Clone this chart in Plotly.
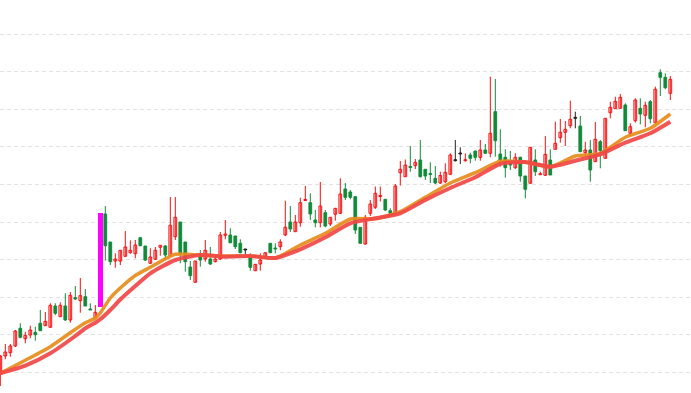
import plotly.graph_objects as go

# ---- data (price units) ----
opens = [12.80, 14.40, 14.73, 15.40, 17.17, 16.13, 16.50, 16.77, 17.67, 17.43,
         17.27, 19.40, 18.33, 19.40, 18.00, 20.23, 19.93, 20.33, 19.10, 18.23,
         19.33, 28.60, 25.80, 23.90, 23.90, 24.37, 24.73, 24.63, 26.23, 25.40,
         23.67, 24.07, 25.27, 25.40, 24.40, 26.33, 27.80, 25.80, 23.30, 21.77,
         24.50, 24.10, 24.10, 23.83, 24.10, 26.47, 26.50, 26.40, 25.67, 25.00,
         24.40, 22.93, 23.60, 24.33, 25.67, 25.17, 25.33, 26.50, 27.80, 26.83,
         27.73, 29.95, 29.73, 28.00, 27.73, 28.73, 27.60, 28.57, 28.67, 31.10,
         30.80, 30.33, 27.27, 25.60, 28.67, 29.27, 30.35, 30.07, 28.93, 28.75,
         32.73, 32.33, 33.35, 33.43, 34.00, 33.07, 32.65, 32.17, 31.70, 31.83,
         32.57, 33.93, 34.60, 33.93, 34.50, 34.90, 34.27, 35.00, 34.67, 38.83,
         34.60, 34.27, 33.67, 33.23, 34.27, 32.40, 31.67, 34.00, 32.53, 32.47,
         34.00, 35.07, 36.23, 36.77, 37.43, 38.17, 37.40, 34.73, 35.00, 33.83,
         35.83, 34.17, 38.73, 39.13, 39.17, 39.50, 36.67, 37.93, 39.17, 38.47,
         39.83, 37.73, 42.73, 42.27, 40.67]
highs = [14.50, 15.60, 15.60, 17.00, 17.67, 16.83, 17.43, 17.33, 19.00, 18.80,
         19.67, 19.67, 19.77, 20.67, 20.80, 21.40, 22.20, 21.10, 19.67, 19.50,
         28.73, 29.40, 25.80, 24.67, 24.97, 26.90, 25.97, 26.00, 26.23, 25.40,
         25.17, 25.30, 25.47, 25.50, 30.30, 30.30, 27.80, 25.80, 23.90, 23.90,
         25.00, 26.00, 25.30, 24.33, 26.80, 28.00, 27.17, 26.40, 26.07, 25.10,
         24.67, 23.60, 24.67, 24.73, 25.67, 25.67, 26.07, 29.93, 29.40, 28.50,
         30.23, 31.40, 30.67, 29.00, 31.80, 29.00, 28.27, 29.17, 32.17, 31.70,
         31.00, 30.33, 27.27, 28.50, 30.00, 31.35, 31.35, 30.07, 29.17, 31.60,
         33.90, 34.05, 35.40, 34.10, 36.00, 33.07, 33.77, 33.40, 32.83, 33.67,
         34.67, 36.00, 35.27, 34.67, 34.73, 34.90, 36.00, 35.60, 42.33, 42.10,
         37.07, 35.07, 34.90, 34.67, 34.33, 32.40, 35.27, 35.07, 32.83, 36.40,
         35.07, 37.83, 38.10, 37.90, 39.93, 38.83, 38.40, 35.83, 36.00, 37.80,
         36.00, 38.17, 39.83, 40.33, 40.60, 39.67, 37.67, 40.17, 40.17, 39.83,
         40.00, 41.33, 43.07, 42.67, 42.40]
lows = [11.40, 14.07, 14.33, 15.30, 16.17, 15.67, 16.17, 15.93, 16.93, 17.40,
        17.27, 18.50, 18.33, 17.93, 17.73, 20.00, 18.73, 19.40, 19.00, 18.17,
        19.33, 23.93, 23.50, 23.23, 23.50, 24.37, 24.63, 24.17, 25.37, 23.90,
        23.63, 24.00, 24.43, 24.00, 24.40, 26.00, 23.67, 22.83, 22.00, 21.77,
        23.33, 23.83, 23.50, 23.77, 24.00, 26.07, 25.67, 25.10, 24.67, 24.57,
        22.93, 22.93, 22.93, 24.30, 24.70, 24.67, 25.00, 26.40, 26.80, 26.83,
        27.33, 29.93, 28.00, 27.27, 27.27, 27.27, 27.40, 27.93, 28.60, 30.00,
        30.07, 26.60, 25.67, 25.53, 28.40, 29.10, 29.85, 28.90, 28.50, 28.75,
        31.45, 32.33, 32.83, 33.10, 32.25, 32.00, 31.70, 31.60, 31.60, 31.67,
        32.57, 33.85, 33.60, 33.83, 33.67, 33.93, 33.93, 34.67, 34.27, 34.33,
        33.33, 32.23, 33.00, 33.10, 31.83, 30.17, 31.67, 32.40, 32.50, 32.47,
        32.50, 35.07, 35.73, 35.40, 37.17, 37.17, 34.83, 34.33, 31.83, 33.83,
        33.17, 34.17, 38.17, 39.13, 39.17, 36.93, 36.40, 37.73, 37.57, 37.27,
        37.67, 37.73, 40.40, 41.07, 40.00]
closes = [14.40, 14.80, 15.40, 16.90, 16.27, 16.47, 17.00, 16.53, 16.93, 17.87,
          19.47, 18.67, 19.47, 18.00, 20.47, 20.10, 20.43, 19.40, 19.00, 18.77,
          28.73, 25.43, 23.83, 24.10, 24.97, 25.30, 24.97, 25.50, 25.43, 24.00,
          24.30, 24.97, 25.47, 24.50, 27.47, 28.27, 24.67, 23.83, 22.43, 23.90,
          24.00, 24.97, 23.60, 24.10, 26.50, 26.60, 25.73, 25.33, 24.73, 25.00,
          23.27, 23.57, 24.00, 24.73, 24.73, 25.10, 25.80, 27.27, 27.10, 27.80,
          29.73, 30.05, 28.60, 27.73, 29.40, 27.40, 28.27, 29.17, 30.60, 30.27,
          30.27, 27.00, 25.67, 28.27, 29.60, 30.67, 30.45, 29.00, 28.67, 31.40,
          33.07, 33.50, 33.25, 33.77, 32.33, 32.40, 32.55, 31.70, 32.45, 32.77,
          34.50, 33.93, 34.60, 34.00, 34.17, 34.27, 35.00, 34.67, 36.67, 35.93,
          34.00, 33.23, 33.50, 34.27, 32.40, 31.07, 35.27, 32.83, 32.60, 34.57,
          32.50, 35.67, 36.77, 37.07, 38.07, 38.17, 34.83, 35.00, 33.00, 36.07,
          34.93, 38.17, 39.27, 39.87, 40.27, 36.93, 37.33, 40.00, 38.60, 39.47,
          38.13, 41.07, 42.27, 41.23, 42.07]
highlight_index = 20

ma_index = [0, 5, 10, 15, 17, 19, 20, 22, 24, 27, 30, 35, 40, 45, 50, 55, 60, 65,
            70, 75, 80, 85, 90, 95, 100, 105, 110, 115, 120, 125, 130, 134]
ma_short = [12.67, 13.97, 15.33, 17.07, 17.73, 18.17, 18.70, 20.20, 21.20, 22.45,
            23.27, 24.57, 24.50, 24.40, 24.40, 24.20, 25.50, 26.67, 28.10, 28.13,
            28.83, 30.27, 31.70, 32.73, 33.87, 33.77, 33.33, 34.40, 34.67, 36.27,
            37.17, 38.60]
ma_long = [12.67, 13.43, 14.67, 16.40, 17.17, 17.73, 18.07, 19.00, 20.05, 21.40,
           22.67, 24.00, 24.50, 24.33, 24.40, 24.20, 25.07, 26.27, 27.67, 28.17,
           28.67, 30.00, 31.20, 32.27, 33.60, 33.80, 33.33, 33.93, 34.57, 35.73,
           36.67, 37.83]

# ---- styles ----
UP = "#f40f0f"
DOWN = "#138a3a"
FLAT = "#222222"
HILITE = "#ff00ff"
ORANGE = "#e68c1a"
REDLINE = "#f04646"

n = len(opens)
groups = {"up": [], "down": [], "flat": []}
for i in range(n):
    if i == highlight_index:
        continue
    if closes[i] > opens[i]:
        groups["up"].append(i)
    elif closes[i] < opens[i]:
        groups["down"].append(i)
    else:
        groups["flat"].append(i)

colors = {"up": UP, "down": DOWN, "flat": FLAT}
fills = {"up": "white", "down": DOWN, "flat": FLAT}

fig = go.Figure()

# wicks
for key, ids in groups.items():
    wx, wy = [], []
    for i in ids:
        wx += [i, i, None]
        wy += [lows[i], highs[i], None]
    fig.add_trace(go.Scatter(x=wx, y=wy, mode="lines",
                             line=dict(color=colors[key], width=1),
                             hoverinfo="skip"))

# bodies
for key, ids in groups.items():
    base = [min(opens[i], closes[i]) for i in ids]
    height = [max(abs(closes[i] - opens[i]), 0.1) for i in ids]
    fig.add_trace(go.Bar(x=ids, y=height, base=base, width=0.55,
                         marker=dict(color=fills[key],
                                     line=dict(color=colors[key], width=1)),
                         hoverinfo="skip"))

# highlighted candle
h = highlight_index
fig.add_trace(go.Bar(x=[h], y=[closes[h] - opens[h]], base=[opens[h]], width=0.92,
                     marker=dict(color=HILITE, line=dict(width=0)),
                     hoverinfo="skip"))

# moving averages
fig.add_trace(go.Scatter(x=ma_index, y=ma_short, mode="lines",
                         line=dict(color=ORANGE, width=3.5, shape="spline", smoothing=0.6),
                         opacity=0.92, hoverinfo="skip"))
fig.add_trace(go.Scatter(x=ma_index, y=ma_long, mode="lines",
                         line=dict(color=REDLINE, width=4, shape="spline", smoothing=0.6),
                         opacity=0.92, hoverinfo="skip"))

fig.update_layout(
    width=691, height=393,
    margin=dict(l=0, r=0, t=0, b=0),
    paper_bgcolor="white", plot_bgcolor="white",
    showlegend=False, barmode="overlay", bargap=0,
    hovermode=False,
    xaxis=dict(range=[-0.06, 138.14], visible=False, fixedrange=True),
    yaxis=dict(range=[10.7, 50], showticklabels=False, ticks="",
               showgrid=True, gridcolor="#e2e2e2", gridwidth=1,
               griddash="4px,3px", zeroline=False, showline=False,
               tick0=12.77, dtick=3.756, fixedrange=True),
)

fig.write_html("out.html",
               config={"displayModeBar": False, "staticPlot": True},
               post_script="document.body.style.margin='0';document.body.style.overflow='hidden';")
